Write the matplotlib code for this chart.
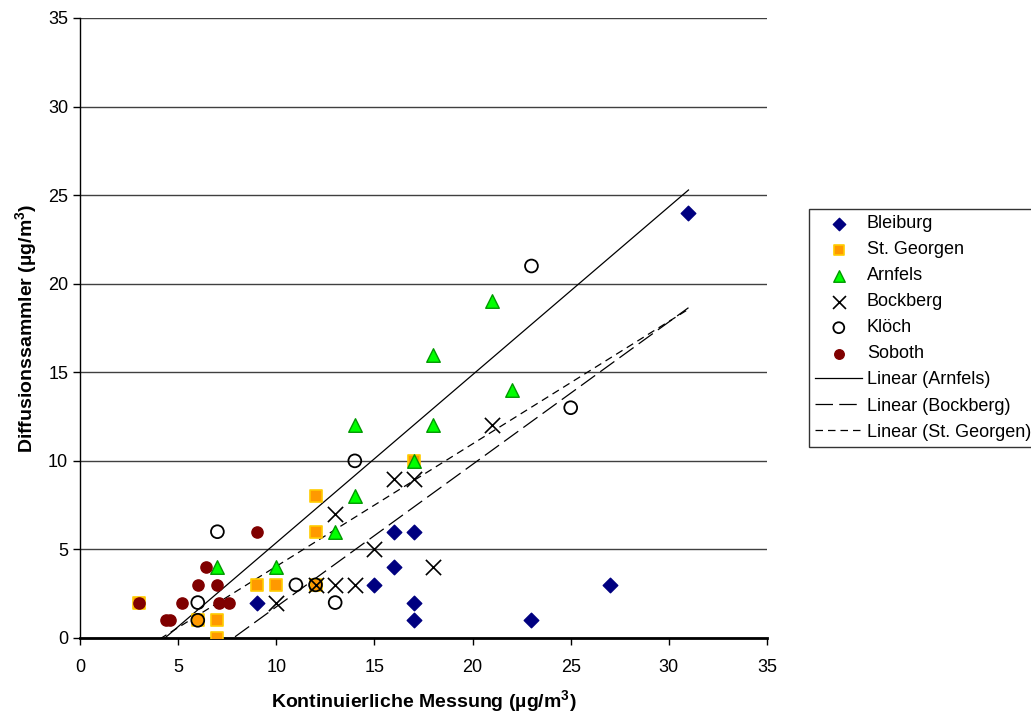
import numpy as np
import matplotlib

matplotlib.use("Agg")
import matplotlib.pyplot as plt

plt.rcParams["font.family"] = ["Liberation Sans", "DejaVu Sans"]
plt.rcParams["mathtext.fontset"] = "custom"
plt.rcParams["mathtext.rm"] = "Liberation Sans"
plt.rcParams["mathtext.bf"] = "Liberation Sans:bold"

# ---------------------------------------------------------------- data
bleiburg_x = [9, 15, 16, 16, 17, 17, 17, 23, 27, 31]
bleiburg_y = [2, 3, 4, 6, 6, 2, 1, 1, 3, 24]

georgen_x = [3, 6, 7, 7, 9, 10, 12, 12, 12, 17]
georgen_y = [2, 1, 1, 0, 3, 3, 3, 6, 8, 10]

arnfels_x = [7, 10, 13, 14, 14, 17, 18, 18, 21, 22]
arnfels_y = [4, 4, 6, 8, 12, 10, 12, 16, 19, 14]

bockberg_x = [10, 12, 13, 14, 13, 15, 16, 17, 18, 21]
bockberg_y = [2, 3, 3, 3, 7, 5, 9, 9, 4, 12]

kloech_x = [6, 6, 7, 11, 12, 13, 14, 23, 25]
kloech_y = [1, 2, 6, 3, 3, 2, 10, 21, 13]

soboth_x = [3, 4.4, 4.6, 5.2, 6, 6.4, 7, 7.1, 7.6, 9]
soboth_y = [2, 1, 1, 2, 3, 4, 3, 2, 2, 6]

# ---------------------------------------------------------------- figure
fig = plt.figure(figsize=(10.31, 7.17), dpi=100)
ax = fig.add_axes([80 / 1031, 1 - 638 / 717, 687 / 1031, 620 / 717])

ax.scatter(bleiburg_x, bleiburg_y, marker="D", s=55, c="#000080",
           edgecolors="#000080", label="Bleiburg", zorder=3)
ax.scatter(georgen_x, georgen_y, marker="s", s=85, c="#FF9900",
           edgecolors="#FFCC00", linewidths=1.2, label="St. Georgen", zorder=3)
ax.scatter(arnfels_x, arnfels_y, marker="^", s=95, c="#00FF00",
           edgecolors="#009900", linewidths=1, label="Arnfels", zorder=3)
ax.scatter(bockberg_x, bockberg_y, marker="x", s=120, c="black",
           linewidths=1.2, label="Bockberg", zorder=3)
ax.scatter(kloech_x, kloech_y, marker="o", s=85, facecolors="none",
           edgecolors="black", linewidths=1.3, label="Klöch", zorder=3)
ax.scatter(soboth_x, soboth_y, marker="o", s=65, c="#800000",
           edgecolors="#800000", label="Soboth", zorder=3)

# linear trendlines over the plotted x range
all_x = bleiburg_x + georgen_x + arnfels_x + bockberg_x + kloech_x + soboth_x
xs = np.linspace(min(all_x), max(all_x), 200)
k, d = np.polyfit(arnfels_x, arnfels_y, 1)
ax.plot(xs, k * xs + d, c="black", lw=0.9, label="Linear (Arnfels)", zorder=2)
k, d = np.polyfit(bockberg_x, bockberg_y, 1)
ax.plot(xs, k * xs + d, c="black", lw=0.9, dashes=(14, 5),
        label="Linear (Bockberg)", zorder=2)
k, d = np.polyfit(georgen_x, georgen_y, 1)
ax.plot(xs, k * xs + d, c="black", lw=0.9, dashes=(6, 4),
        label="Linear (St. Georgen)", zorder=2)

ax.set_xlim(0, 35)
ax.set_ylim(0, 35)
ax.set_xticks(np.arange(0, 36, 5))
ax.set_yticks(np.arange(0, 36, 5))
ax.yaxis.grid(True, color="#404040", lw=1)
ax.set_axisbelow(True)
for side in ["top", "right"]:
    ax.spines[side].set_visible(False)
ax.spines["bottom"].set_linewidth(2)
ax.spines["left"].set_linewidth(1)
ax.tick_params(labelsize=13, length=5, width=1)
ax.tick_params(axis="x", pad=10)

ax.set_xlabel(r"Kontinuierliche Messung (µg/m$^\mathbf{3}$)",
              fontsize=14, fontweight="bold", labelpad=9)
ax.set_ylabel(r"Diffusionssammler (µg/m$^\mathbf{3}$)",
              fontsize=14, fontweight="bold", labelpad=6)

# legend sits partly beyond the right edge, as in the original
leg = ax.legend(loc="upper left", bbox_to_anchor=(729 / 687, (638 - 209) / 620),
                fontsize=13, frameon=True, fancybox=False, edgecolor="black",
                borderpad=0.35, labelspacing=0.5, handlelength=2.6,
                handletextpad=0.25, borderaxespad=0, scatterpoints=1,
                markerscale=0.85)
leg.get_frame().set_linewidth(1)

fig.savefig("out.png", dpi=100)
